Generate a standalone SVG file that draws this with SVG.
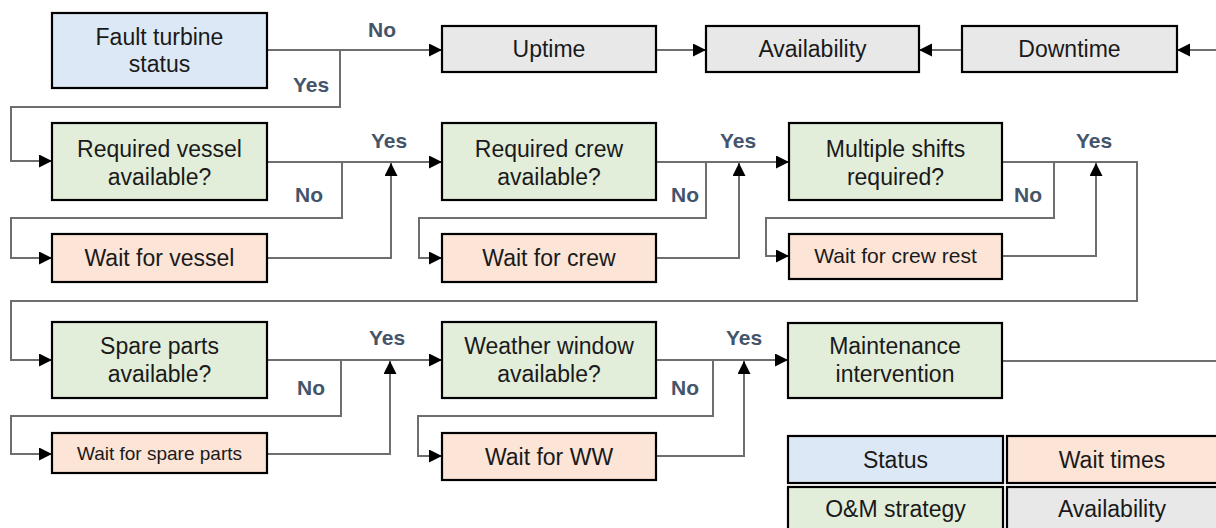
<svg xmlns="http://www.w3.org/2000/svg" width="1216" height="528" viewBox="0 0 1216 528">
<defs>
<marker id="arr" markerUnits="userSpaceOnUse" markerWidth="14" markerHeight="14" refX="13" refY="6.5" orient="auto">
<path d="M0,0 L13,6.5 L0,13 z" fill="#000"/>
</marker>
<style>
.box{stroke:#000;stroke-width:2.2}
.blue{fill:#DCE8F5}
.green{fill:#E2EEDA}
.peach{fill:#FCE4D6}
.gray{fill:#E8E8E8}
.t{font-family:"Liberation Sans",Arial,sans-serif;font-size:23px;fill:#1a1a1a;text-anchor:middle}
.lbl{font-family:"Liberation Sans",Arial,sans-serif;font-size:21px;font-weight:bold;fill:#44546A;text-anchor:middle}
.c{fill:none;stroke:#6E6E6E;stroke-width:2}
</style>
</defs>
<rect width="1216" height="528" fill="#fff"/>

<g id="connectors">
<path class="c" d="M267,50 H442" marker-end="url(#arr)"/>
<path class="c" d="M340,50 V107 H11 V161 H52" marker-end="url(#arr)"/>
<path class="c" d="M656,50 H706" marker-end="url(#arr)"/>
<path class="c" d="M962,50 H919" marker-end="url(#arr)"/>
<path class="c" d="M1002,361 H1232 V50 H1177" marker-end="url(#arr)"/>
<path class="c" d="M267,162 H442" marker-end="url(#arr)"/>
<path class="c" d="M342,162 V218 H11 V258 H52" marker-end="url(#arr)"/>
<path class="c" d="M267,258 H391 V163" marker-end="url(#arr)"/>
<path class="c" d="M656,162 H789" marker-end="url(#arr)"/>
<path class="c" d="M706,162 V218 H419 V258 H442" marker-end="url(#arr)"/>
<path class="c" d="M656,258 H739 V163" marker-end="url(#arr)"/>
<path class="c" d="M1002,162 H1137 V301 H11 V360 H52" marker-end="url(#arr)"/>
<path class="c" d="M1054,162 V218 H766 V256 H789" marker-end="url(#arr)"/>
<path class="c" d="M1002,256 H1096 V163" marker-end="url(#arr)"/>
<path class="c" d="M267,360 H442" marker-end="url(#arr)"/>
<path class="c" d="M341,360 V416 H11 V454 H52" marker-end="url(#arr)"/>
<path class="c" d="M267,454 H390 V361" marker-end="url(#arr)"/>
<path class="c" d="M656,360 H788" marker-end="url(#arr)"/>
<path class="c" d="M713,360 V416 H418 V456 H442" marker-end="url(#arr)"/>
<path class="c" d="M656,456 H744 V361" marker-end="url(#arr)"/>
<text class="lbl" x="382" y="37">No</text>
<text class="lbl" x="311" y="92">Yes</text>
<text class="lbl" x="389" y="148">Yes</text>
<text class="lbl" x="309" y="202">No</text>
<text class="lbl" x="738" y="148">Yes</text>
<text class="lbl" x="685" y="202">No</text>
<text class="lbl" x="1094" y="148">Yes</text>
<text class="lbl" x="1028" y="202">No</text>
<text class="lbl" x="387" y="345">Yes</text>
<text class="lbl" x="311" y="395">No</text>
<text class="lbl" x="744" y="345">Yes</text>
<text class="lbl" x="685" y="395">No</text>
</g>

<g id="fault"><rect class="box blue" x="52" y="13" width="215" height="75"/><text class="t" x="159.5" y="45">Fault turbine</text><text class="t" x="159.5" y="72">status</text></g>
<g id="uptime"><rect class="box gray" x="442" y="26" width="214" height="46"/><text class="t" x="549" y="57">Uptime</text></g>
<g id="availability"><rect class="box gray" x="706" y="26" width="213" height="46"/><text class="t" x="812.5" y="57">Availability</text></g>
<g id="downtime"><rect class="box gray" x="962" y="26" width="215" height="46"/><text class="t" x="1069.5" y="57">Downtime</text></g>

<g id="reqvessel"><rect class="box green" x="52" y="123" width="215" height="77"/><text class="t" x="159.5" y="157">Required vessel</text><text class="t" x="159.5" y="185">available?</text></g>
<g id="waitvessel"><rect class="box peach" x="52" y="234" width="215" height="48"/><text class="t" x="159.5" y="266">Wait for vessel</text></g>
<g id="reqcrew"><rect class="box green" x="442" y="123" width="214" height="77"/><text class="t" x="549" y="157">Required crew</text><text class="t" x="549" y="185">available?</text></g>
<g id="waitcrew"><rect class="box peach" x="442" y="234" width="214" height="48"/><text class="t" x="549" y="266">Wait for crew</text></g>
<g id="multishift"><rect class="box green" x="789" y="123" width="213" height="77"/><text class="t" x="895.5" y="157">Multiple shifts</text><text class="t" x="895.5" y="185">required?</text></g>
<g id="waitrest"><rect class="box peach" x="789" y="234" width="213" height="45"/><text class="t" x="895.5" y="263" style="font-size:21px">Wait for crew rest</text></g>

<g id="spare"><rect class="box green" x="52" y="322" width="215" height="76"/><text class="t" x="159.5" y="354">Spare parts</text><text class="t" x="159.5" y="382">available?</text></g>
<g id="waitspare"><rect class="box peach" x="52" y="433" width="215" height="40"/><text class="t" x="159.5" y="460" style="font-size:19px">Wait for spare parts</text></g>
<g id="weather"><rect class="box green" x="442" y="322" width="214" height="76"/><text class="t" x="549" y="354">Weather window</text><text class="t" x="549" y="382">available?</text></g>
<g id="waitww"><rect class="box peach" x="442" y="433" width="214" height="47"/><text class="t" x="549" y="465">Wait for WW</text></g>
<g id="maint"><rect class="box green" x="788" y="323" width="214" height="75"/><text class="t" x="895" y="354">Maintenance</text><text class="t" x="895" y="382">intervention</text></g>

<g id="legend-status"><rect class="box blue" x="788" y="436" width="215" height="47"/><text class="t" x="895.5" y="468">Status</text></g>
<g id="legend-wait"><rect class="box peach" x="1007" y="436" width="215" height="47"/><text class="t" x="1112" y="468">Wait times</text></g>
<g id="legend-om"><rect class="box green" x="788" y="487" width="215" height="50"/><text class="t" x="895.5" y="517">O&amp;M strategy</text></g>
<g id="legend-avail"><rect class="box gray" x="1007" y="487" width="215" height="50"/><text class="t" x="1112" y="517">Availability</text></g>
</svg>
